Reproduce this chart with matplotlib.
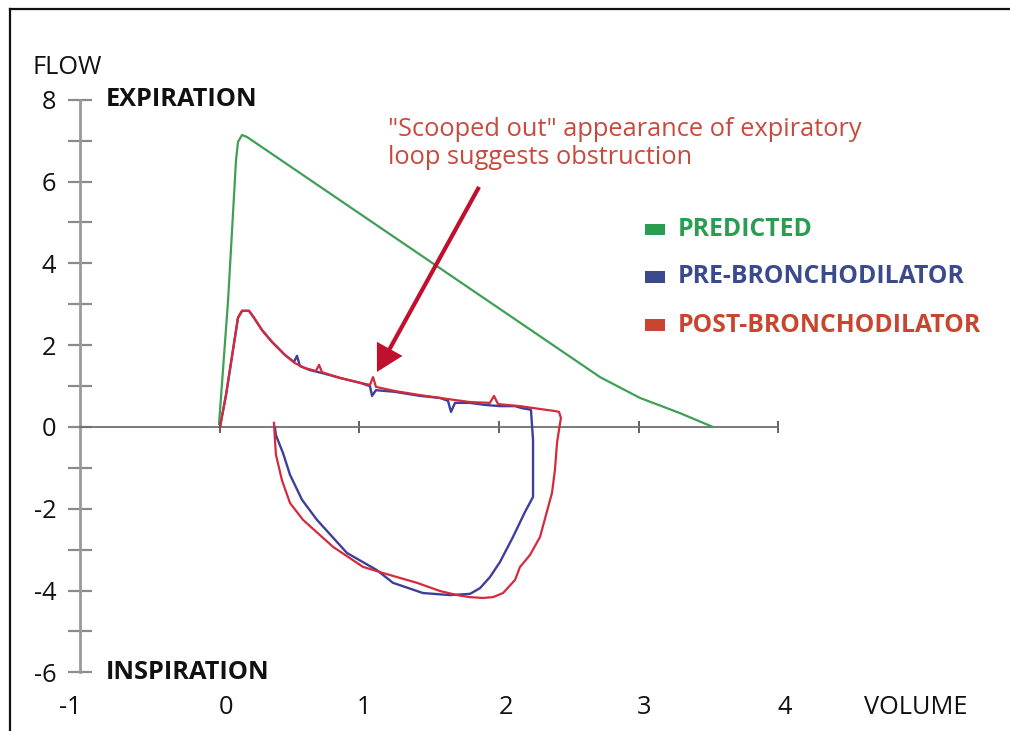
import matplotlib
matplotlib.use("Agg")
import matplotlib.pyplot as plt
from matplotlib.lines import Line2D

plt.rcParams['font.family'] = ['Open Sans', 'DejaVu Sans']

# predicted expiratory curve
pred_x = [-0.007, 0.058, 0.115, 0.129, 0.158, 0.194, 2.703, 2.724, 3.011, 3.297, 3.534]
pred_y = [0.07, 3.10, 6.53, 6.97, 7.14, 7.09, 1.27, 1.22, 0.71, 0.34, 0.0]

# pre-bronchodilator loop (expiration then inspiration)
pre_x = [0.0, 0.043, 0.093, 0.129, 0.158, 0.208, 0.244, 0.301, 0.373, 0.466, 0.530,
         0.552, 0.573, 0.645, 0.731, 0.860, 1.004, 1.075, 1.090, 1.118, 1.254, 1.434,
         1.577, 1.634, 1.656, 1.685, 1.792, 1.900, 2.007, 2.115, 2.165, 2.201, 2.229,
         2.244, 2.244, 2.244, 2.186, 2.100, 2.007, 1.935, 1.864, 1.792, 1.649, 1.455,
         1.240, 1.125, 0.910, 0.695, 0.588, 0.502, 0.452, 0.401, 0.394]
pre_y = [0.0, 0.78, 1.88, 2.67, 2.84, 2.84, 2.67, 2.37, 2.08, 1.76, 1.59,
         1.74, 1.49, 1.39, 1.32, 1.20, 1.08, 1.00, 0.76, 0.90, 0.86, 0.76,
         0.71, 0.64, 0.37, 0.59, 0.59, 0.54, 0.51, 0.51, 0.46, 0.44, 0.42,
         -0.32, -1.05, -1.71, -2.08, -2.69, -3.30, -3.67, -3.94, -4.08, -4.11, -4.06,
         -3.81, -3.50, -3.08, -2.27, -1.78, -1.17, -0.64, -0.20, -0.02]

# post-bronchodilator loop
post_x = [0.0, 0.043, 0.093, 0.129, 0.158, 0.208, 0.244, 0.301, 0.373, 0.466, 0.538,
          0.609, 0.688, 0.710, 0.731, 0.860, 1.004, 1.075, 1.097, 1.118, 1.254, 1.434,
          1.577, 1.792, 1.935, 1.964, 1.993, 2.151, 2.294, 2.401, 2.430, 2.444, 2.430,
          2.416, 2.401, 2.380, 2.337, 2.294, 2.222, 2.151, 2.115, 2.029, 1.957, 1.885,
          1.792, 1.699, 1.577, 1.412, 1.168, 1.025, 0.810, 0.595, 0.502, 0.444, 0.401,
          0.394, 0.387]
post_y = [0.0, 0.78, 1.88, 2.67, 2.84, 2.84, 2.67, 2.37, 2.08, 1.76, 1.56,
          1.44, 1.37, 1.52, 1.34, 1.20, 1.08, 1.03, 1.22, 0.98, 0.88, 0.78,
          0.71, 0.61, 0.59, 0.76, 0.56, 0.51, 0.44, 0.39, 0.37, 0.22, -0.07,
          -0.39, -1.05, -1.61, -2.15, -2.69, -3.13, -3.42, -3.74, -4.06, -4.16, -4.18,
          -4.16, -4.11, -4.01, -3.81, -3.57, -3.42, -2.93, -2.27, -1.86, -1.30, -0.68,
          -0.32, 0.10]

series_names = ["PREDICTED", "PRE-BRONCHODILATOR", "POST-BRONCHODILATOR"]
legend_colors = ["#2a9d52", "#3a4a8c", "#c8452f"]
line_colors = ["#3f9f55", "#3d3f9a", "#d52a3c"]

note_lines = ["\"Scooped out\" appearance of expiratory", "loop suggests obstruction"]

x_ticks = [-1, 0, 1, 2, 3, 4]
x_label_shift = [-0.07, 0.04, 0.03, 0.05, 0.04, 0.05]
y_major = [-6, -4, -2, 0, 2, 4, 6, 8]
y_minor = [-5, -3, -1, 1, 3, 5, 7]

FS = 18.3

fig = plt.figure(figsize=(10.10, 7.31), dpi=100)
ax = fig.add_axes([0, 0, 1, 1])
ax.set_xlim(-1.577, 5.663)
ax.set_ylim(-7.433, 10.44)
ax.patch.set_alpha(0)

# axes through the origin
for s in ['top', 'right']:
    ax.spines[s].set_visible(False)
ax.spines['left'].set_position(('data', -1))
ax.spines['left'].set_bounds(-6, 8)
ax.spines['left'].set_color('#9a9a9a')
ax.spines['left'].set_linewidth(2.0)
ax.spines['bottom'].set_position(('data', 0))
ax.spines['bottom'].set_bounds(-1, 4)
ax.spines['bottom'].set_color('#707070')
ax.spines['bottom'].set_linewidth(1.3)

ax.set_yticks(y_major)
ax.set_yticks(y_minor, minor=True)
ax.set_yticklabels([str(v) for v in y_major])
ax.tick_params(axis='y', which='both', direction='inout', length=17, width=1.6,
               color='#8a8a8a', labelsize=FS, pad=9, labelcolor='#111111')
ax.set_xticks(x_ticks[1:])
ax.set_xticklabels([])
ax.tick_params(axis='x', which='both', direction='inout', length=9, width=1.3,
               color='#555555')

for v, sh in zip(x_ticks, x_label_shift):
    ax.text(v + sh, -6.87, str(v), ha='center', va='center', fontsize=FS, color='#111111')

ax.text(-1.347, 8.8, "FLOW", ha='left', va='center', fontsize=FS, color='#111111')
ax.text(4.62, -6.87, "VOLUME", ha='left', va='center', fontsize=FS, color='#111111')
ax.text(-0.82, 8.0, "EXPIRATION", ha='left', va='center', fontsize=FS,
        fontweight='bold', color='#111111')
ax.text(-0.82, -6.0, "INSPIRATION", ha='left', va='center', fontsize=FS,
        fontweight='bold', color='#111111')

# curves
ax.plot(pred_x, pred_y, color=line_colors[0], lw=1.6, solid_joinstyle='round', zorder=3)
ax.plot(pre_x, pre_y, color=line_colors[1], lw=1.7, solid_joinstyle='round', zorder=3)
ax.plot(post_x, post_y, color=line_colors[2], lw=1.6, solid_joinstyle='round', zorder=4)

# legend drawn as squares + bold coloured labels
leg_y = [4.83, 3.67, 2.49]
for name, c, yy in zip(series_names, legend_colors, leg_y):
    ax.add_patch(plt.Rectangle((3.043, yy - 0.14), 0.15, 0.28, color=c, lw=0))
    ax.text(3.283, yy, name, ha='left', va='center', fontsize=FS - 0.5,
            fontweight='bold', color=c)

# annotation
for txt, yy in zip(note_lines, [7.27, 6.58]):
    ax.text(1.205, yy, txt, ha='left', va='center', fontsize=FS,
            color='#c84a3c')
ax.annotate("", xy=(1.125, 1.345), xytext=(1.857, 5.87),
            arrowprops=dict(width=3.0, headwidth=21, headlength=19, shrink=0,
                            color='#c0102e', lw=0), zorder=5)

# border of the original frame (top and left)
fig.add_artist(Line2D([10 / 1010, 1.0], [1 - 9 / 731, 1 - 9 / 731],
                      transform=fig.transFigure, color='#111111', lw=1.6))
fig.add_artist(Line2D([10 / 1010, 10 / 1010], [0, 1 - 9 / 731],
                      transform=fig.transFigure, color='#111111', lw=1.6))

fig.savefig("out.png", dpi=100)
